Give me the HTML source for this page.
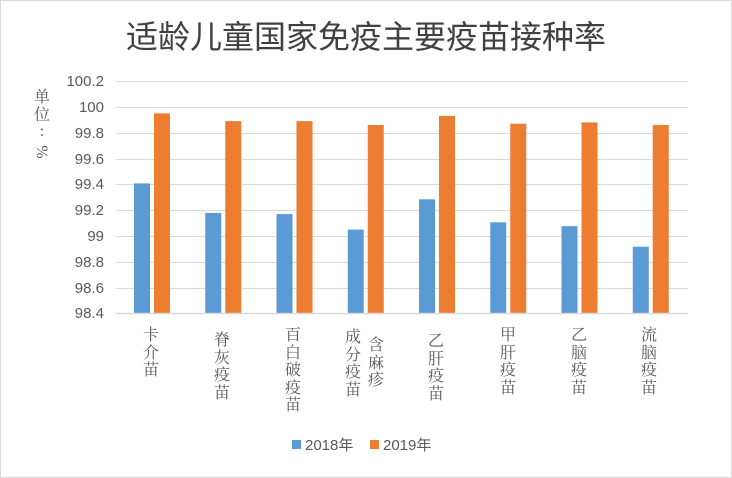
<!DOCTYPE html>
<html><head><meta charset="utf-8"><style>
body{margin:0;background:#fff}
svg{display:block;font-family:"Liberation Sans","Noto Sans CJK SC",sans-serif}
.sf{font-family:"Liberation Serif","Noto Serif CJK SC",serif}
</style></head><body>
<svg width="732" height="478" xmlns="http://www.w3.org/2000/svg">
<rect x="0.5" y="0.5" width="731" height="477" fill="#fff" stroke="#d9d9d9"/>
<text x="366" y="48" text-anchor="middle" font-size="32" fill="#404040">适龄儿童国家免疫主要疫苗接种率</text>
<g stroke="#d9d9d9" stroke-width="1">
<line x1="116" x2="688" y1="81.5" y2="81.5"/><line x1="116" x2="688" y1="107.5" y2="107.5"/>
<line x1="116" x2="688" y1="133.5" y2="133.5"/><line x1="116" x2="688" y1="159.5" y2="159.5"/>
<line x1="116" x2="688" y1="184.5" y2="184.5"/><line x1="116" x2="688" y1="210.5" y2="210.5"/>
<line x1="116" x2="688" y1="236.5" y2="236.5"/><line x1="116" x2="688" y1="262.5" y2="262.5"/>
<line x1="116" x2="688" y1="288.5" y2="288.5"/>
</g>
<g font-size="15" fill="#595959" text-anchor="end">
<text x="104" y="86">100.2</text><text x="104" y="112">100</text><text x="104" y="138">99.8</text>
<text x="104" y="164">99.6</text><text x="104" y="189">99.4</text><text x="104" y="215">99.2</text>
<text x="104" y="241">99</text><text x="104" y="267">98.8</text><text x="104" y="293">98.6</text><text x="104" y="318">98.4</text>
</g>
<g font-size="16" fill="#595959" text-anchor="middle" class="sf">
<text x="42" y="102">单</text><text x="42" y="120">位</text><text x="42" y="136">:</text>
<text x="42" y="157" transform="rotate(90 42 152)">%</text>
</g>
<g fill="#5b9bd5">
<rect x="134" y="183.4" width="16" height="130"/>
<rect x="205.25" y="212.9" width="16" height="100.6"/>
<rect x="276.5" y="214.1" width="16" height="99.4"/>
<rect x="347.75" y="229.6" width="16" height="83.9"/>
<rect x="419" y="199.3" width="16" height="114.2"/>
<rect x="490.25" y="222.3" width="16" height="91.2"/>
<rect x="561.5" y="226.2" width="16" height="87.3"/>
<rect x="632.75" y="246.7" width="16" height="66.8"/>
</g>
<g fill="#ed7d31">
<rect x="154" y="113.4" width="16" height="200.1"/>
<rect x="225.25" y="121.1" width="16" height="192.4"/>
<rect x="296.5" y="121.1" width="16" height="192.4"/>
<rect x="367.75" y="125" width="16" height="188.5"/>
<rect x="439" y="115.9" width="16" height="197.6"/>
<rect x="510.25" y="123.7" width="16" height="189.8"/>
<rect x="581.5" y="122.4" width="16" height="191.1"/>
<rect x="652.75" y="125" width="16" height="188.5"/>
</g>
<line x1="116" x2="688" y1="313.5" y2="313.5" stroke="#d9d9d9" stroke-width="1.5"/>
<g font-size="16" fill="#595959" text-anchor="middle" class="sf">
<text x="151" y="340">卡</text><text x="151" y="358">介</text><text x="151" y="375">苗</text>
<text x="222" y="345">脊</text><text x="222" y="363">灰</text><text x="222" y="380">疫</text><text x="222" y="398">苗</text>
<text x="293" y="340">百</text><text x="293" y="358">白</text><text x="293" y="375">破</text><text x="293" y="393">疫</text><text x="293" y="410">苗</text>
<text x="353" y="342">成</text><text x="353" y="360">分</text><text x="353" y="377">疫</text><text x="353" y="395">苗</text>
<text x="376" y="350">含</text><text x="376" y="368">麻</text><text x="376" y="385">疹</text>
<text x="436" y="346">乙</text><text x="436" y="364">肝</text><text x="436" y="381">疫</text><text x="436" y="399">苗</text>
<text x="508" y="340">甲</text><text x="508" y="358">肝</text><text x="508" y="375">疫</text><text x="508" y="393">苗</text>
<text x="579" y="340">乙</text><text x="579" y="358">脑</text><text x="579" y="375">疫</text><text x="579" y="393">苗</text>
<text x="649" y="340">流</text><text x="649" y="358">脑</text><text x="649" y="375">疫</text><text x="649" y="393">苗</text>
</g>
<rect x="292" y="440" width="9" height="9" fill="#5b9bd5"/>
<text x="305" y="450" font-size="15" fill="#595959">2018年</text>
<rect x="370" y="440" width="9" height="9" fill="#ed7d31"/>
<text x="383" y="450" font-size="15" fill="#595959">2019年</text>
</svg>
</body></html>
